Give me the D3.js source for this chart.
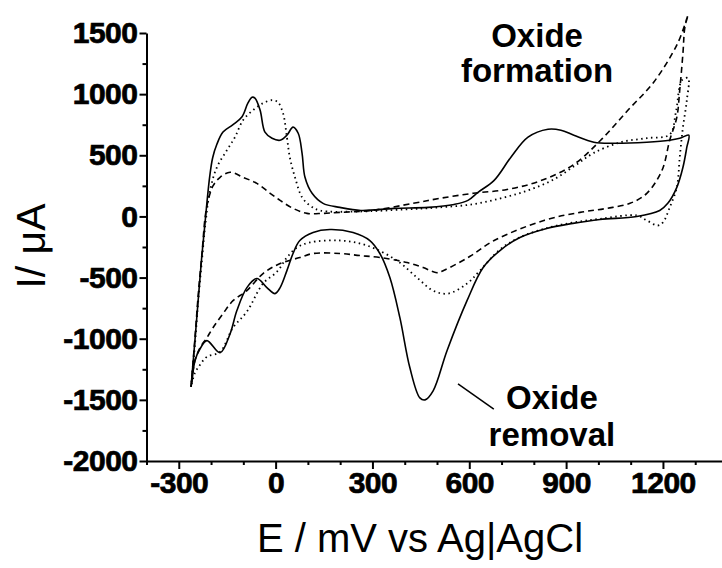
<!DOCTYPE html>
<html>
<head>
<meta charset="utf-8">
<script src="https://cdn.jsdelivr.net/npm/d3@7"></script>
<style>
  html, body { margin: 0; padding: 0; background: #fff; }
  svg { display: block; }
  text { font-family: "Liberation Sans", Arial, sans-serif; fill: #000; }
</style>
</head>
<body>
<div id="graph"></div>
<script>
// potential (mV) and current (uA), one closed loop each
var solidE = [-262, -250, -240, -229, -220, -213, -204, -195, -182, -163, -132, -104, -86, -73, -64, -48, -33, -11, 14, 35, 54, 70, 82, 91, 113, 147, 199, 264, 367, 473, 553, 596, 627, 677, 729, 782, 844, 884, 924, 986, 1045, 1150, 1221, 1252, 1280,
              1274, 1262, 1243, 1215, 1190, 1119, 1005, 921, 840, 757, 695, 643, 593, 531, 488, 463, 447, 416, 385, 354, 323, 292, 240, 168, 116, 75, 54, 35, 14, -2, -27, -58, -89, -120, -141, -172, -213, -234, -250, -259, -262];
var solidI = [-1393, -1016, -689, -334, -90, 107, 330, 480, 590, 690, 750, 815, 926, 975, 967, 869, 689, 639, 623, 664, 730, 680, 516, 320, 189, 107, 74, 49, 66, 74, 98, 131, 197, 295, 484, 648, 713, 705, 664, 607, 598, 607, 623, 639, 664,
              566, 402, 238, 107, 49, 0, -25, -57, -98, -172, -279, -418, -689, -1098, -1426, -1500, -1484, -1238, -828, -500, -303, -197, -131, -107, -131, -197, -303, -443, -582, -631, -582, -508, -582, -770, -959, -1115, -1016, -1082, -1180, -1344, -1393];

var dottedE = [-262, -250, -240, -228, -217, -203, -182, -151, -126, -101, -70, -39, -11, 7, 23, 35, 44, 60, 82, 106, 137, 250, 400, 509, 612, 700, 782, 860, 930, 986, 1070, 1150, 1221, 1240, 1259, 1278,
               1274, 1262, 1252, 1243, 1221, 1200, 1184, 1150, 1119, 1005, 921, 840, 757, 695, 633, 593, 534, 488, 438, 376, 283, 200, 106, 66, 35, 5, -39, -89, -132, -172, -213, -234, -250, -262];
var dottedI = [-1393, -1050, -700, -350, -50, 213, 402, 541, 648, 787, 869, 926, 951, 934, 844, 648, 484, 320, 156, 90, 49, 40, 57, 74, 100, 150, 213, 300, 420, 520, 607, 640, 670, 850, 1115, 1131,
               951, 730, 484, 238, 74, -49, -74, -33, 8, -20, -50, -95, -170, -270, -443, -549, -631, -607, -500, -361, -238, -197, -213, -254, -336, -450, -549, -779, -910, -1107, -1148, -1213, -1280, -1393];

var dashedE = [-262, -250, -240, -228, -218, -209, -194, -172, -141, -101, -58, -17, 14, 54, 97, 147, 199, 300, 426, 509, 612, 717, 819, 921, 1007, 1092, 1172, 1246, 1278,
               1268, 1262, 1252, 1243, 1221, 1197, 1150, 1098, 1026, 943, 831, 677, 600, 522, 500, 457, 407, 323, 261, 200, 116, 75, 14, -39, -89, -132, -163, -194, -213, -234, -250, -262];
var dashedI = [-1393, -1000, -650, -300, 0, 131, 250, 320, 361, 320, 270, 189, 131, 66, 25, 25, 33, 50, 107, 148, 189, 220, 290, 420, 623, 870, 1100, 1418, 1648,
               1549, 1336, 1033, 811, 623, 377, 189, 107, 66, 33, -33, -197, -330, -440, -460, -418, -377, -336, -320, -303, -303, -336, -385, -467, -607, -689, -795, -910, -992, -1074, -1180, -1393];

var xTicks = [-300, 0, 300, 600, 900, 1200];
var yTicks = [1500, 1000, 500, 0, -500, -1000, -1500, -2000];

// annotation anchors in data units
var formationAt = [810, 1385];
var removalAt = [856, -1575];
var removalLeader = [[565, -1370], [676, -1575]];

//----------------------------------------------------------
var g_width = 722, g_height = 568;

var g_svg = d3.select("#graph")
  .append("svg")
    .attr("width", g_width)
    .attr("height", g_height);

var x = d3.scaleLinear().domain([-400, 1400]).range([146.5, 727.5]);
var y = d3.scaleLinear().domain([-2000, 1500]).range([461, 33]);

function Plain(v) {
    return String(v);
}

function HeavyLabels(sel) {
    sel.style("font-size", "30px")
        .style("font-weight", "bold")
        .style("font-family", "'Liberation Sans', Arial, sans-serif")
        .style("letter-spacing", "-0.5px")
        .attr("stroke", "#000")
        .attr("stroke-width", 0.7);
}

function DrawAxes() {
    var xMinor = d3.range(-400, 1401, 100).filter(function (v) { return xTicks.indexOf(v) < 0; });
    var yMinor = d3.range(-2000, 1501, 250).filter(function (v) { return yTicks.indexOf(v) < 0; });

    // minor ticks first, no labels
    g_svg.append("g")
        .attr("transform", "translate(0," + y(-2000) + ")")
        .call(d3.axisBottom(x).tickValues(xMinor).tickSize(4).tickFormat(""))
        .call(function (g) { g.select(".domain").remove(); });

    g_svg.append("g")
        .attr("transform", "translate(" + x(-400) + ",0)")
        .call(d3.axisLeft(y).tickValues(yMinor).tickSize(4).tickFormat(""))
        .call(function (g) { g.select(".domain").remove(); });

    var xAxis = g_svg.append("g")
        .attr("class", "x-axis")
        .attr("transform", "translate(0," + y(-2000) + ")")
        .call(d3.axisBottom(x).tickValues(xTicks).tickFormat(Plain)
              .tickSizeInner(8).tickSizeOuter(0).tickPadding(3));

    xAxis.selectAll("text")
        .attr("dy", "0.71em")
        .call(HeavyLabels);

    var yAxis = g_svg.append("g")
        .attr("class", "y-axis")
        .attr("transform", "translate(" + x(-400) + ",0)")
        .call(d3.axisLeft(y).tickValues(yTicks).tickFormat(Plain)
              .tickSizeInner(7).tickSizeOuter(0).tickPadding(2));

    yAxis.selectAll("text")
        .call(HeavyLabels);

    g_svg.selectAll(".domain, .tick line")
        .attr("stroke", "#000")
        .attr("stroke-width", 2);
}

function DrawCurves() {
    var line = d3.line()
        .x(function (d) { return x(d[0]); })
        .y(function (d) { return y(d[1]); })
        .curve(d3.curveCatmullRom.alpha(0.5));

    var curves = [
        { e: dashedE, i: dashedI, dash: "6,4", width: 1.6 },
        { e: dottedE, i: dottedI, dash: "1.5,3.5", width: 1.8 },
        { e: solidE, i: solidI, dash: null, width: 1.6 }
    ];

    g_svg.append("g")
      .selectAll("path")
      .data(curves)
      .join("path")
        .attr("d", function (c) {
            return line(d3.zip(c.e, c.i));
        })
        .attr("fill", "none")
        .attr("stroke", "#000")
        .attr("stroke-width", function (c) { return c.width; })
        .attr("stroke-dasharray", function (c) { return c.dash; })
        .attr("stroke-linejoin", "round");
}

function DrawLabels() {
    g_svg.append("text")
        .attr("x", 420)
        .attr("y", 552)
        .attr("text-anchor", "middle")
        .style("font-size", "40px")
        .text("E / mV vs Ag|AgCl");

    g_svg.append("text")
        .attr("transform", "translate(45,246) rotate(-90)")
        .attr("text-anchor", "middle")
        .style("font-size", "41px")
        .text("I/ \u03bcA");

    var note = g_svg.append("text")
        .attr("text-anchor", "middle")
        .style("font-size", "33px")
        .style("font-weight", "bold");
    note.append("tspan").attr("x", x(formationAt[0])).attr("y", y(formationAt[1])).text("Oxide");
    note.append("tspan").attr("x", x(formationAt[0])).attr("dy", 35).text("formation");

    var note2 = g_svg.append("text")
        .attr("text-anchor", "middle")
        .style("font-size", "33px")
        .style("font-weight", "bold");
    note2.append("tspan").attr("x", x(removalAt[0])).attr("y", y(removalAt[1])).text("Oxide");
    note2.append("tspan").attr("x", x(removalAt[0])).attr("dy", 37).text("removal");

    g_svg.append("line")
        .attr("x1", x(removalLeader[0][0])).attr("y1", y(removalLeader[0][1]))
        .attr("x2", x(removalLeader[1][0])).attr("y2", y(removalLeader[1][1]))
        .attr("stroke", "#000")
        .attr("stroke-width", 1.5);
}

//----------------------------------------------------------
DrawCurves();
DrawAxes();
DrawLabels();
</script>
</body>
</html>
